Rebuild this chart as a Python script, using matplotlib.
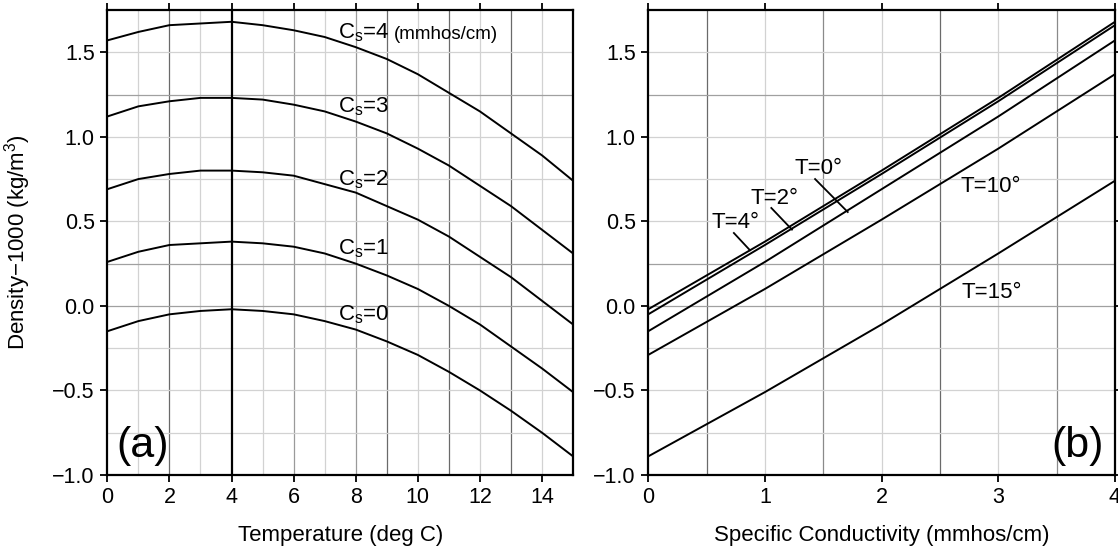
import matplotlib
matplotlib.use("Agg")
import matplotlib.pyplot as plt

plt.rcParams["font.family"] = ["Liberation Sans", "DejaVu Sans"]
plt.rcParams["mathtext.default"] = "regular"

# temperature (deg C) and density-1000 (kg/m3) for each conductivity Cs
temps = list(range(16))
cs_values = [0, 1, 2, 3, 4]
rho_cs0 = [-0.15, -0.09, -0.05, -0.03, -0.02, -0.03, -0.05, -0.09,
           -0.14, -0.21, -0.29, -0.39, -0.50, -0.62, -0.75, -0.89]
rho_cs1 = [0.26, 0.32, 0.36, 0.37, 0.38, 0.37, 0.35, 0.31,
           0.25, 0.18, 0.10, 0.00, -0.11, -0.24, -0.37, -0.51]
rho_cs2 = [0.69, 0.75, 0.78, 0.80, 0.80, 0.79, 0.77, 0.72,
           0.67, 0.59, 0.51, 0.41, 0.29, 0.17, 0.03, -0.11]
rho_cs3 = [1.12, 1.18, 1.21, 1.23, 1.23, 1.22, 1.19, 1.15,
           1.09, 1.02, 0.93, 0.83, 0.71, 0.59, 0.45, 0.31]
rho_cs4 = [1.57, 1.62, 1.66, 1.67, 1.68, 1.66, 1.63, 1.59,
           1.53, 1.46, 1.37, 1.26, 1.15, 1.02, 0.89, 0.74]
rho_table = [rho_cs0, rho_cs1, rho_cs2, rho_cs3, rho_cs4]

# temperatures drawn in panel (b)
t_lines = [0, 2, 4, 10, 15]

fig = plt.figure(figsize=(11.18, 5.5), dpi=100)
ax1 = fig.add_axes([0.096, 0.1364, 0.4166, 0.8455])
ax2 = fig.add_axes([0.5798, 0.1364, 0.4175, 0.8455])

light = "#d2d2d2"
dark = "#6a6a6a"


def style(ax):
    for s in ax.spines.values():
        s.set_linewidth(1.6)
    ax.tick_params(direction="out", length=5, width=1.3, labelsize=15.5,
                   top=True, pad=4)
    ax.set_ylim(-1.0, 1.75)
    ax.set_yticks([-1.0, -0.5, 0.0, 0.5, 1.0, 1.5])
    ax.set_yticklabels(["\u22121.0", "\u22120.5", "0.0", "0.5", "1.0", "1.5"])


# ---- (a) density vs temperature ----
for xg in range(1, 15):
    if xg == 4:
        continue
    c = dark if xg in (2, 9, 11, 13) else ("#9a9a9a" if xg in (6, 8) else light)
    ax1.axvline(xg, color=c, lw=0.9, zorder=0)
for yg in [-0.75, -0.5, -0.25, 0.0, 0.25, 0.5, 0.75, 1.0, 1.25, 1.5]:
    c = "#a0a0a0" if yg in (0.0, 0.25, 1.25) else light
    ax1.axhline(yg, color=c, lw=0.9, zorder=0)
ax1.axvline(4, color="black", lw=1.6, zorder=1)

for rho in rho_table:
    ax1.plot(temps, rho, color="black", lw=1.4)

ax1.set_xlim(0, 15)
ax1.set_xticks([0, 2, 4, 6, 8, 10, 12, 14])
style(ax1)
ax1.set_xlabel("Temperature (deg C)", fontsize=16, labelpad=12)
ax1.set_ylabel("Density\u22121000 (kg/m$^3$)", fontsize=16)
ax1.yaxis.set_label_coords(-0.16, 0.5)

label_y = [-0.087, 0.303, 0.71, 1.143, 1.58]
for cs, ly in zip(cs_values, label_y):
    ax1.text(7.42, ly, "C$_s$=%d" % cs, fontsize=16, va="baseline")
ax1.text(9.23, 1.58, "(mmhos/cm)", fontsize=13.5, va="baseline")
ax1.text(0.02, 0.02, "(a)", transform=ax1.transAxes, fontsize=31,
         va="bottom", ha="left")

# ---- (b) density vs conductivity ----
for xg in [0.5, 1, 1.5, 2, 2.5, 3, 3.5]:
    c = dark if xg in (0.5, 2.5) else ("#8a8a8a" if xg in (1.5, 3.5) else light)
    ax2.axvline(xg, color=c, lw=0.9, zorder=0)
for yg in [-0.75, -0.5, -0.25, 0.0, 0.25, 0.5, 0.75, 1.0, 1.25, 1.5]:
    c = "#a0a0a0" if yg in (0.0, 0.25, 1.25) else light
    ax2.axhline(yg, color=c, lw=0.9, zorder=0)

for t in t_lines:
    ax2.plot(cs_values, [rho[t] for rho in rho_table], color="black", lw=1.4)

ax2.set_xlim(0, 4)
ax2.set_xticks([0, 1, 2, 3, 4])
style(ax2)
ax2.tick_params(right=True)
ax2.set_xlabel("Specific Conductivity (mmhos/cm)", fontsize=16, labelpad=12)

ax2.text(1.455, 0.815, "T=0\u00b0", fontsize=16, ha="center", va="center")
ax2.plot([1.43, 1.71], [0.75, 0.555], color="black", lw=1.3)
ax2.text(1.08, 0.634, "T=2\u00b0", fontsize=16, ha="center", va="center")
ax2.plot([1.055, 1.232], [0.579, 0.451], color="black", lw=1.3)
ax2.text(0.75, 0.492, "T=4\u00b0", fontsize=16, ha="center", va="center")
ax2.plot([0.734, 0.872], [0.431, 0.329], color="black", lw=1.3)
ax2.text(2.935, 0.707, "T=10\u00b0", fontsize=16, ha="center", va="center")
ax2.text(2.94, 0.08, "T=15\u00b0", fontsize=16, ha="center", va="center")
ax2.text(0.975, 0.02, "(b)", transform=ax2.transAxes, fontsize=31,
         va="bottom", ha="right")

fig.savefig("out.png", dpi=100)
